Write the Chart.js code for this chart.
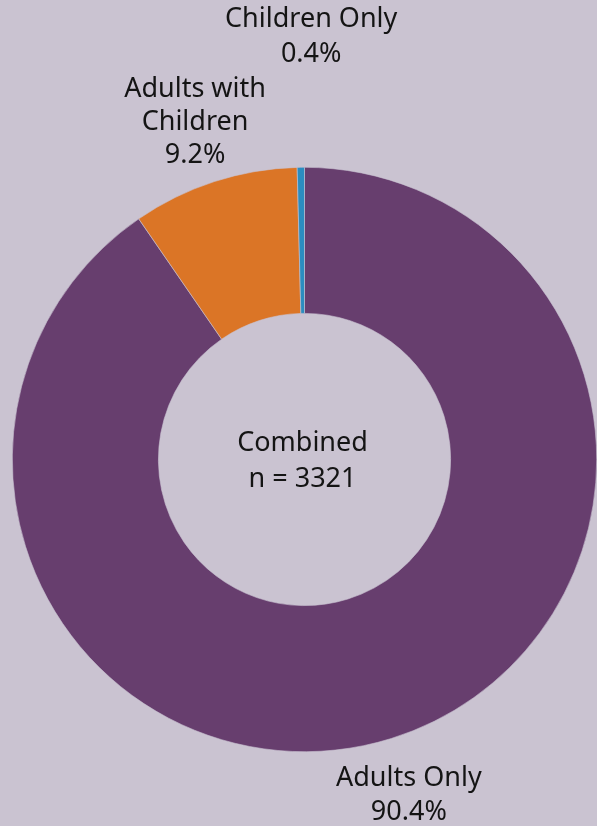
<!DOCTYPE html>
<html>
<head>
<meta charset="utf-8">
<script src="https://cdn.jsdelivr.net/npm/chart.js@4"></script>
<style>
  html, body { margin: 0; padding: 0; background: #cac3d1; }
  #wrap { width: 597px; height: 826px; }
</style>
</head>
<body>
<div id="wrap"><canvas id="myChart"></canvas></div>
<script>
// data
var labels = ["Adults Only", "Adults with Children", "Children Only"]
var values = [90.4, 9.2, 0.4]
var labelLines = [["Adults Only", "90.4%"], ["Adults with", "Children", "9.2%"], ["Children Only", "0.4%"]]
var centerLines = ["Combined", "n = 3321"]
var colors = ["#673e6e", "#db7526", "#2b8dc0"]

var fontFamily = "'Noto Sans', sans-serif"

// where each outside label sits, relative to its slice's middle angle
var labelOffset = [
  { r: 59, dx: 0, lineH: 34 },
  { r: 62, dx: 0, lineH: 33 },
  { r: 131, dx: 12, lineH: 35 }
]

var sliceLabels = {
  id: "sliceLabels",
  afterDraw(chart) {
    var ctx = chart.ctx
    var meta = chart.getDatasetMeta(0)
    ctx.save()
    ctx.fillStyle = "#141414"
    ctx.textAlign = "center"
    ctx.textBaseline = "middle"
    ctx.font = "27px " + fontFamily
    meta.data.forEach((arc, i) => {
      var p = arc.getProps(["x", "y", "startAngle", "endAngle", "outerRadius"], true)
      var mid = (p.startAngle + p.endAngle) / 2
      var r = p.outerRadius + labelOffset[i].r
      var cx = p.x + Math.cos(mid) * r + labelOffset[i].dx
      var cy = p.y + Math.sin(mid) * r
      var lines = labelLines[i]
      var h = labelOffset[i].lineH
      var top = cy - (lines.length - 1) * h / 2
      lines.forEach((t, j) => ctx.fillText(t, cx, top + j * h))
    })
    // centre text
    var a = meta.data[0]
    ctx.font = "27px " + fontFamily
    ctx.fillText(centerLines[0], a.x - 2, a.y - 16)
    ctx.fillText(centerLines[1], a.x - 2, a.y + 20)
    ctx.restore()
  }
}

var data = {
  labels: labels,
  datasets: [{
    data: values,
    backgroundColor: colors,
    borderColor: "#cac3d1",
    borderWidth: 0.6
  }]
}

const config = {
  type: "doughnut",
  data: data,
  options: {
    responsive: true,
    maintainAspectRatio: false,
    animation: false,
    cutout: "50%",
    layout: {
      padding: { top: 166, bottom: 73, left: 12, right: 0 }
    },
    plugins: {
      legend: { display: false },
      tooltip: { enabled: false }
    }
  },
  plugins: [sliceLabels]
}

const myChart = new Chart(document.getElementById("myChart"), config)
</script>
</body>
</html>
